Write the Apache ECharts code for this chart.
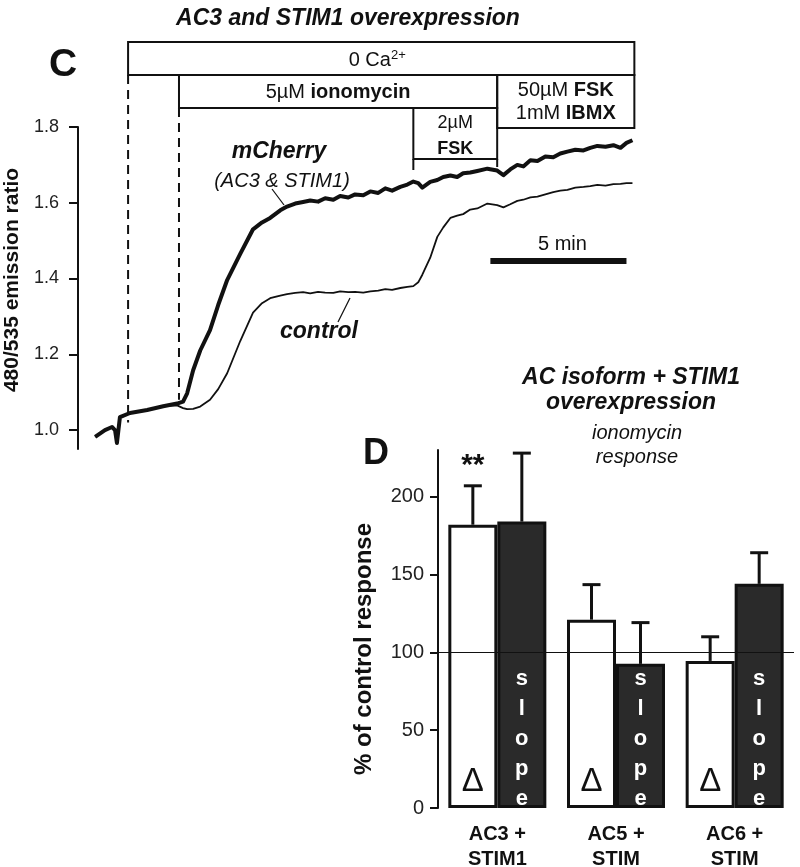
<!DOCTYPE html>
<html><head><meta charset="utf-8">
<script src="https://cdn.jsdelivr.net/npm/echarts@6/dist/echarts.min.js"></script>
<style>html,body{margin:0;padding:0;background:#fff}#c{width:800px;height:867px}</style>
</head><body><div id="c"></div>
<script>
// ---------- Panel C data (time in minutes, 480/535 ratio) ----------
const timeMin = [0.63,0.99,1.25,1.36,1.43,1.54,1.91,2.54,3.13,3.64,3.86,4.01,4.23,4.49,4.85,5.15,5.48,5.96,6.43,6.76,7.06,7.43,7.68,7.98,8.27,8.53,8.82,9.08,9.38,9.63,9.93,10.18,10.48,10.74,11.03,11.29,11.54,11.84,12.10,12.32,12.50,12.65,12.94,13.20,13.42,13.68,13.93,14.15,14.41,14.67,15.04,15.40,15.63,15.88,16.14,16.36,16.62,16.88,17.17,17.46,17.72,17.98,18.27,18.57,18.82,19.08,19.38,19.67,19.93,20.15,20.37];
const mCherryRatio = [0.982,1.0,1.008,1.0,0.966,1.034,1.045,1.053,1.063,1.07,
  1.075,1.097,1.158,1.21,1.264,1.33,1.396,1.465,1.53,1.548,
  1.56,1.58,1.59,1.598,1.602,1.606,1.603,1.612,1.608,1.618,
  1.614,1.622,1.62,1.63,1.626,1.638,1.632,1.642,1.648,1.656,
  1.652,1.64,1.655,1.66,1.668,1.672,1.668,1.678,1.68,1.684,
  1.69,1.685,1.673,1.688,1.7,1.696,1.712,1.71,1.722,1.72,
  1.73,1.735,1.74,1.738,1.745,1.75,1.748,1.752,1.745,1.758,1.765];
const controlRatio = [0.982,1.0,1.008,1.0,0.966,1.034,1.045,1.053,1.063,1.065,
  1.058,1.055,1.056,1.062,1.08,1.108,1.15,1.235,1.31,1.335,
  1.348,1.355,1.359,1.362,1.364,1.361,1.365,1.363,1.362,1.366,
  1.364,1.365,1.363,1.366,1.368,1.372,1.37,1.375,1.378,1.38,
  1.39,1.41,1.455,1.51,1.535,1.56,1.566,1.57,1.582,1.585,
  1.598,1.594,1.588,1.596,1.605,1.608,1.614,1.616,1.622,1.628,
  1.632,1.634,1.64,1.642,1.644,1.647,1.645,1.649,1.65,1.652,1.652];
const ratioTicks = [1.0, 1.2, 1.4, 1.6, 1.8];
// protocol times (min)
const tCaFree = 1.84, tIono = 3.71, tFsk2 = 12.32, tFsk50 = 15.40, tEnd = 20.44;
const scaleBarMin = [15.15, 20.15];

// ---------- Panel D data ----------
const groups = ['AC3 +\nSTIM1', 'AC5 +\nSTIM', 'AC6 +\nSTIM'];
const deltaPct = [182, 121, 94.5];
const deltaErr = [25, 22.5, 15.5];
const slopePct = [184, 92.6, 144];
const slopeErr = [44, 26.5, 20];
const pctTicks = [0, 50, 100, 150, 200];
const controlLevel = 100;

const FONT = 'Liberation Sans, Arial, Helvetica, sans-serif';
const INK = '#111';
const BAR_W = 49;

const chart = echarts.init(document.getElementById('c'), null, {renderer: 'canvas'});

function errorSeries(name, vals, errs, side) {
  return {
    type: 'custom', name: name, xAxisIndex: 1, yAxisIndex: 1, z: 1,
    data: vals.map((v, i) => [i, v, v + errs[i]]),
    renderItem: function (params, api) {
      const i = api.value(0);
      const base = api.coord([i, api.value(1)]);
      const top = api.coord([i, api.value(2)]);
      const x = base[0] + side * BAR_W / 2;
      return {type: 'group', children: [
        {type: 'line', shape: {x1: x, y1: base[1], x2: x, y2: top[1]}, style: {stroke: INK, lineWidth: 3}},
        {type: 'line', shape: {x1: x - 9, y1: top[1], x2: x + 9, y2: top[1]}, style: {stroke: INK, lineWidth: 3}}
      ]};
    }
  };
}

const option = {
  animation: false,
  backgroundColor: '#fff',
  textStyle: {fontFamily: FONT},
  title: [
    {text: 'AC3 and STIM1 overexpression', left: 343, top: 2, textAlign: 'center',
     textStyle: {fontFamily: FONT, fontSize: 23, fontWeight: 'bold', fontStyle: 'italic', color: INK}},
    {text: 'C', left: 44, top: 41, textStyle: {fontFamily: FONT, fontSize: 39, fontWeight: 'bold', color: INK}},
    {text: 'AC isoform + STIM1\noverexpression', left: 626, top: 360, textAlign: 'center',
     textStyle: {fontFamily: FONT, fontSize: 23, fontWeight: 'bold', fontStyle: 'italic', color: INK, lineHeight: 25}},
    {text: 'D', left: 358, top: 431, textStyle: {fontFamily: FONT, fontSize: 36, fontWeight: 'bold', color: INK}}
  ],
  grid: [
    {left: 78, top: 127, width: 558, height: 322, containLabel: false, outerBoundsMode: 'none'},
    {left: 438, top: 450, width: 356, height: 358, containLabel: false, outerBoundsMode: 'none'}
  ],
  xAxis: [
    {gridIndex: 0, type: 'value', min: 0, max: 20.5, show: false},
    {gridIndex: 1, type: 'category', data: groups,
     axisLine: {show: false}, axisTick: {show: false},
     axisLabel: {margin: 14, fontFamily: FONT, fontSize: 20, fontWeight: 'bold', color: INK, lineHeight: 25}}
  ],
  yAxis: [
    {gridIndex: 0, type: 'value', min: 0.95, max: 1.8,
     name: '480/535 emission ratio', nameLocation: 'middle', nameRotate: 90, nameGap: 52,
     nameTextStyle: {fontFamily: FONT, fontSize: 21, fontWeight: 'bold', color: INK, padding: [0, 0, 0, 16]},
     axisLine: {show: true, lineStyle: {color: INK, width: 2}},
     axisTick: {show: true, length: 9, customValues: ratioTicks, lineStyle: {color: INK, width: 2}},
     axisLabel: {customValues: ratioTicks, margin: 19, fontFamily: FONT, fontSize: 18, color: '#222',
       formatter: v => v.toFixed(1)},
     splitLine: {show: false}},
    {gridIndex: 1, type: 'value', min: 0, max: 230,
     name: '% of control response', nameLocation: 'middle', nameRotate: 90, nameGap: 62,
     nameTextStyle: {fontFamily: FONT, fontSize: 24, fontWeight: 'bold', color: INK, padding: [0, 40, 0, 0]},
     axisLine: {show: true, lineStyle: {color: INK, width: 2}},
     axisTick: {show: true, length: 8, customValues: pctTicks, lineStyle: {color: INK, width: 2}},
     axisLabel: {customValues: pctTicks, margin: 14, fontFamily: FONT, fontSize: 20, color: '#222'},
     splitLine: {show: false}}
  ],
  series: [
    {name: 'control', type: 'line', xAxisIndex: 0, yAxisIndex: 0, showSymbol: false, symbol: 'none',
     data: timeMin.map((t, i) => [t, controlRatio[i]]),
     lineStyle: {color: INK, width: 1.8}, z: 2},
    {name: 'mCherry', type: 'line', xAxisIndex: 0, yAxisIndex: 0, showSymbol: false, symbol: 'none',
     data: timeMin.map((t, i) => [t, mCherryRatio[i]]),
     lineStyle: {color: INK, width: 4, join: 'round'}, z: 3},
    errorSeries('deltaErr', deltaPct, deltaErr, -1),
    errorSeries('slopeErr', slopePct, slopeErr, 1),
    {name: 'Δ', type: 'bar', xAxisIndex: 1, yAxisIndex: 1, data: deltaPct, barWidth: BAR_W, barGap: '0%', z: 2,
     itemStyle: {color: '#fff', borderColor: INK, borderWidth: 3},
     label: {show: true, position: 'insideBottom', distance: 10, formatter: 'Δ',
       fontFamily: FONT, fontSize: 33, color: INK}},
    {name: 'slope', type: 'bar', xAxisIndex: 1, yAxisIndex: 1, data: slopePct, barWidth: BAR_W, barGap: '0%', z: 3,
     itemStyle: {color: '#2a2a2a', borderColor: INK, borderWidth: 3},
     label: {show: true, position: 'insideBottom', distance: 0, offset: [0, 6], formatter: 's\nl\no\np\ne',
       fontFamily: FONT, fontSize: 22, fontWeight: 'bold', color: '#fff', lineHeight: 30},
     markLine: {silent: true, symbol: 'none', label: {show: false},
       lineStyle: {color: INK, width: 1, type: 'solid'}, data: [{yAxis: controlLevel}]}}
  ]
};
chart.setOption(option);

// ---------- annotations placed through the time / ratio scales ----------
const xAt = t => chart.convertToPixel({xAxisIndex: 0}, t);
const yAt = v => chart.convertToPixel({yAxisIndex: 0}, v);
const boxStyle = {fill: 'none', stroke: INK, lineWidth: 2};
const txt = (x, y, text, size, extra) => ({type: 'text', x: x, y: y, z: 10,
  style: Object.assign({text: text, fontFamily: FONT, fontSize: size, fill: INK,
    align: 'center', verticalAlign: 'middle'}, extra || {})});
const rich = {b: {fontFamily: FONT, fontWeight: 'bold', fontSize: 20, fill: INK},
              sup: {fontFamily: FONT, fontSize: 13, fill: INK, verticalAlign: 'top', padding: [0, 0, 9, 0]}};
const rich2 = {b: {fontFamily: FONT, fontWeight: 'bold', fontSize: 18, fill: INK}};

const xCa = xAt(tCaFree), xIo = xAt(tIono), xF2 = xAt(tFsk2), xF50 = xAt(tFsk50), xE = xAt(tEnd);
const g = [
  {type: 'rect', shape: {x: xCa, y: 42, width: xE - xCa, height: 33}, style: boxStyle},
  {type: 'rect', shape: {x: xIo, y: 75, width: xF50 - xIo, height: 33}, style: boxStyle},
  {type: 'rect', shape: {x: xF50, y: 75, width: xE - xF50, height: 53}, style: boxStyle},
  {type: 'rect', shape: {x: xF2, y: 108, width: xF50 - xF2, height: 51}, style: boxStyle},
  {type: 'line', shape: {x1: xF2, y1: 159, x2: xF2, y2: 170}, style: {stroke: INK, lineWidth: 2}},
  {type: 'line', shape: {x1: xF50, y1: 159, x2: xF50, y2: 167}, style: {stroke: INK, lineWidth: 2}},
  {type: 'line', shape: {x1: xCa, y1: 75, x2: xCa, y2: yAt(1.02)}, style: {stroke: INK, lineWidth: 2, lineDash: [9, 6]}},
  {type: 'line', shape: {x1: xIo, y1: 108, x2: xIo, y2: yAt(1.08)}, style: {stroke: INK, lineWidth: 2, lineDash: [9, 6]}},
  txt((xCa + xE) / 2 - 4, 60, '0 Ca{sup|2+}', 20, {rich: rich}),
  txt((xIo + xF50) / 2, 92, '5µM {b|ionomycin}', 20, {rich: rich}),
  txt((xF50 + xE) / 2, 90, '50µM {b|FSK}', 20, {rich: rich}),
  txt((xF50 + xE) / 2, 113, '1mM {b|IBMX}', 20, {rich: rich}),
  txt((xF2 + xF50) / 2, 123, '2µM', 18),
  txt((xF2 + xF50) / 2, 149, '{b|FSK}', 18, {rich: rich2}),
  // curve labels
  txt(279, 152, 'mCherry', 23, {fontWeight: 'bold', fontStyle: 'italic'}),
  txt(282, 181, '(AC3 & STIM1)', 20, {fontStyle: 'italic'}),
  {type: 'line', shape: {x1: 272, y1: 189, x2: 284, y2: 205}, style: {stroke: INK, lineWidth: 1.2}},
  txt(319, 332, 'control', 23, {fontWeight: 'bold', fontStyle: 'italic'}),
  {type: 'line', shape: {x1: 338, y1: 322, x2: 350, y2: 298}, style: {stroke: INK, lineWidth: 1.2}},
  // scale bar
  {type: 'line', shape: {x1: xAt(scaleBarMin[0]), y1: 261, x2: xAt(scaleBarMin[1]), y2: 261}, style: {stroke: INK, lineWidth: 6}},
  txt((xAt(scaleBarMin[0]) + xAt(scaleBarMin[1])) / 2 + 4, 244, '5 min', 20),
  // panel D notes
  txt(637, 433, 'ionomycin', 20, {fontStyle: 'italic'}),
  txt(637, 457, 'response', 20, {fontStyle: 'italic'}),
];
const starPos = chart.convertToPixel({xAxisIndex: 1, yAxisIndex: 1}, [0, deltaPct[0] + deltaErr[0]]);
g.push(txt(starPos[0] - BAR_W / 2, 466, '**', 30, {fontWeight: 'bold'}));
chart.setOption({graphic: g});
</script>
</body></html>
